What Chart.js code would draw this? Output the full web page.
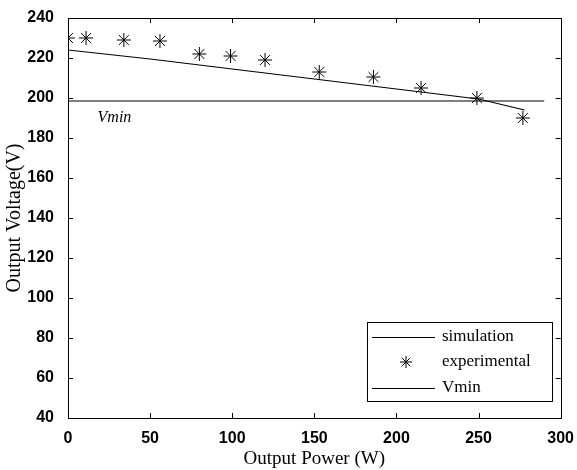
<!DOCTYPE html>
<html>
<head>
<meta charset="utf-8">
<script src="https://cdn.jsdelivr.net/npm/chart.js@4.4.1/dist/chart.umd.min.js"></script>
<style>
  html, body { margin: 0; padding: 0; background: #fff; }
  #wrap { width: 577px; height: 470px; }
</style>
</head>
<body>
<div id="wrap"><canvas id="lineChart"></canvas></div>
<script>
// simulation curve (W, V)
const simPower = [0, 50, 100, 150, 200, 250, 278];
const simVoltage = [224, 219.5, 214.5, 209.5, 204.5, 199.5, 194];

// measured points
const expPower = [0, 11, 34, 56, 80, 99, 120, 153, 186, 215, 249, 277];
const expVoltage = [230, 230, 229, 228.5, 222, 221, 219, 213, 210.5, 205, 200, 190];

// minimum voltage line
const vminPower = [0, 290];
const vminVoltage = [198.5, 198.5];

const xTicks = [0, 50, 100, 150, 200, 250, 300];
const yTicks = [40, 60, 80, 100, 120, 140, 160, 180, 200, 220, 240];

function toPoints(xs, ys) {
    return xs.map((x, i) => ({ x: x, y: ys[i] }));
}

// box + inward ticks like matlab
const frame = {
    id: 'frame',
    afterDraw(chart) {
        const ctx = chart.ctx;
        const a = chart.chartArea;
        const xs = chart.scales.x, ys = chart.scales.y;
        ctx.save();
        ctx.strokeStyle = '#000';
        ctx.lineWidth = 1;
        ctx.strokeRect(Math.round(a.left) + 0.5, Math.round(a.top) + 0.5,
            Math.round(a.right - a.left), Math.round(a.bottom - a.top));
        ctx.beginPath();
        xTicks.forEach(v => {
            const px = Math.round(xs.getPixelForValue(v)) + 0.5;
            ctx.moveTo(px, a.bottom); ctx.lineTo(px, a.bottom - 5);
            ctx.moveTo(px, a.top); ctx.lineTo(px, a.top + 5);
        });
        yTicks.forEach(v => {
            const py = Math.round(ys.getPixelForValue(v)) + 0.5;
            ctx.moveTo(a.left, py); ctx.lineTo(a.left + 5, py);
            ctx.moveTo(a.right, py); ctx.lineTo(a.right - 5, py);
        });
        ctx.stroke();

        // Vmin label
        ctx.fillStyle = '#000';
        ctx.font = 'italic 16px "Liberation Serif"';
        ctx.textBaseline = 'middle';
        ctx.fillText('Vmin', xs.getPixelForValue(18), ys.getPixelForValue(190));

        // legend box
        const bx = 367, by = 322, bw = 185, bh = 79;
        ctx.fillStyle = '#fff';
        ctx.fillRect(bx, by, bw, bh);
        ctx.strokeRect(bx + 0.5, by + 0.5, bw, bh);
        ctx.font = '17px "Liberation Serif"';
        ctx.fillStyle = '#000';
        const rows = [337, 362, 388];
        chart.data.datasets.forEach((ds, i) => {
            const y = rows[i];
            if (ds.showLine === false) {
                ctx.beginPath();
                const r = 6, cx = 406;
                for (let k = 0; k < 4; k++) {
                    const ang = k * Math.PI / 4;
                    ctx.moveTo(cx - r * Math.cos(ang), y - r * Math.sin(ang));
                    ctx.lineTo(cx + r * Math.cos(ang), y + r * Math.sin(ang));
                }
                ctx.stroke();
            } else {
                ctx.beginPath();
                ctx.moveTo(372, y + 0.5); ctx.lineTo(435, y + 0.5);
                ctx.stroke();
            }
            ctx.fillText(ds.label, 442, y);
        });
        ctx.restore();
    }
};

new Chart(document.getElementById('lineChart'), {
    type: 'scatter',
    data: {
        datasets: [
            {
                label: 'simulation',
                data: toPoints(simPower, simVoltage),
                showLine: true,
                borderColor: '#000',
                borderWidth: 1.2,
                pointRadius: 0,
                tension: 0
            },
            {
                label: 'experimental',
                data: toPoints(expPower, expVoltage),
                showLine: false,
                pointStyle: 'star',
                pointRadius: 7,
                borderColor: '#000',
                borderWidth: 1,
                backgroundColor: '#000'
            },
            {
                label: 'Vmin',
                data: toPoints(vminPower, vminVoltage),
                showLine: true,
                borderColor: '#000',
                borderWidth: 1.2,
                pointRadius: 0
            }
        ]
    },
    options: {
        responsive: true,
        maintainAspectRatio: false,
        animation: false,
        layout: { padding: { top: 18, right: 15, left: 0, bottom: 0 } },
        plugins: {
            legend: { display: false },
            tooltip: { enabled: false }
        },
        scales: {
            x: {
                type: 'linear',
                min: 0, max: 300,
                afterFit: s => { s.height = 52; },
                afterBuildTicks: s => { s.ticks = xTicks.map(v => ({ value: v })); },
                grid: { display: false },
                border: { display: false },
                ticks: { color: '#000', padding: 3, maxRotation: 0, font: { family: '"Liberation Sans"', size: 16, weight: 'bold' } },
                title: {
                    display: true, text: 'Output Power (W)', color: '#000',
                    padding: { top: 0, bottom: 0 },
                    font: { family: '"Liberation Serif"', size: 19 }
                }
            },
            y: {
                min: 40, max: 240,
                afterFit: s => { s.width = 68; },
                afterBuildTicks: s => { s.ticks = yTicks.map(v => ({ value: v })); },
                grid: { display: false },
                border: { display: false },
                ticks: { color: '#000', padding: 6, font: { family: '"Liberation Sans"', size: 16, weight: 'bold' } },
                title: {
                    display: true, text: 'Output Voltage(V)', color: '#000',
                    padding: { top: 3, bottom: 0 },
                    font: { family: '"Liberation Serif"', size: 20 }
                }
            }
        }
    },
    plugins: [frame]
});
</script>
</body>
</html>
